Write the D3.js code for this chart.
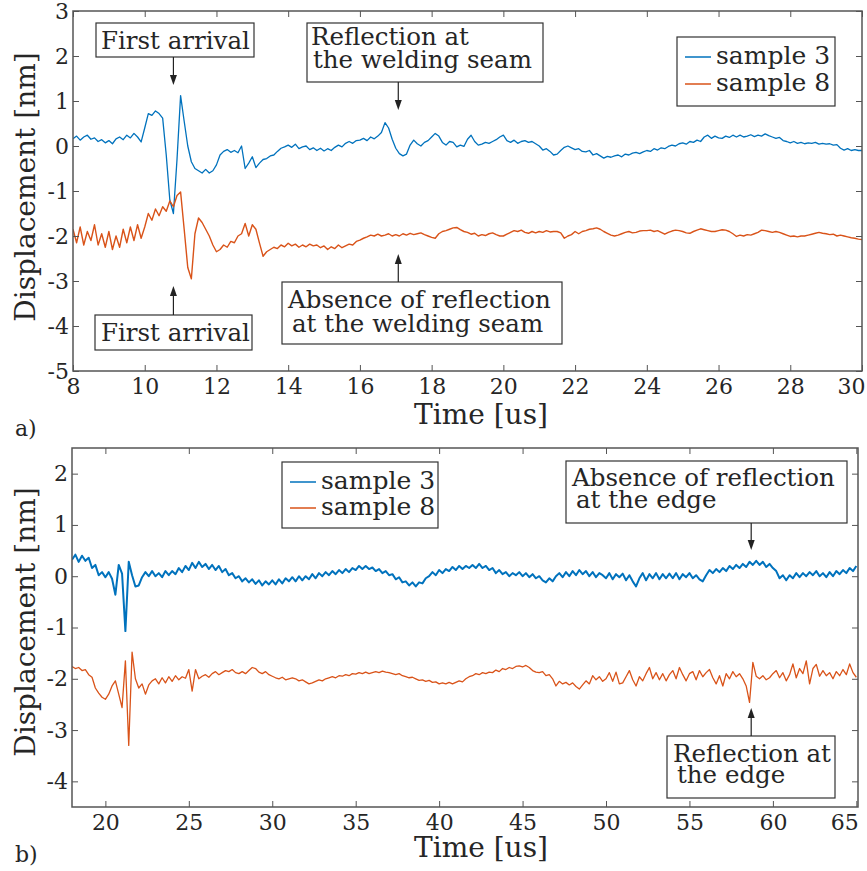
<!DOCTYPE html>
<html>
<head>
<meta charset="utf-8">
<script src="https://cdn.jsdelivr.net/npm/d3@7"></script>
<style>
  body { margin: 0; background: #fff; }
  svg { display: block; }
  text { font-family: "DejaVu Serif", serif; fill: #262626; }
</style>
</head>
<body>
<div id="chart"></div>
<script>
// ---- panel a) data: time grid 8..30 us, step 0.1 ----
const timeStartA = 8, timeStepA = 0.1;
const sample3A = [
  0.16, 0.22, 0.13, 0.2, 0.24, 0.15, 0.18, 0.1, 0.14, 0.07,
  0.12, 0.05, 0.16, 0.2, 0.14, 0.24, 0.18, 0.28, 0.2, 0.09,
  0.4, 0.72, 0.68, 0.78, 0.72, 0.62, -0.2, -1.2, -1.5, -0.3,
  1.12, 0.55, 0.0, -0.35, -0.5, -0.55, -0.6, -0.52, -0.6, -0.55,
  -0.42, -0.2, -0.12, -0.08, -0.14, -0.1, -0.15, 0.0, -0.5, -0.38,
  -0.24, -0.48, -0.38, -0.3, -0.28, -0.22, -0.2, -0.12, -0.05, -0.02,
  0.02, -0.03, 0.04, -0.06, -0.02, 0.0, -0.08, -0.04, -0.1, -0.05,
  -0.11, -0.06, -0.1, -0.03, 0.02, -0.02, 0.06, 0.1, 0.06, 0.12,
  0.13, 0.17, 0.12, 0.2, 0.16, 0.22, 0.3, 0.52, 0.4, 0.15,
  -0.05, -0.17, -0.22, -0.18, 0.02, 0.13, 0.05, 0.0, 0.08, 0.12,
  0.2, 0.28, 0.22, 0.08, 0.02, 0.1, 0.08, -0.02, 0.02, -0.01,
  0.15, 0.24, 0.1, 0.02, 0.04, 0.08, 0.06, 0.1, 0.14, 0.2,
  0.24, 0.12, 0.08, 0.13, 0.06, 0.1, 0.12, 0.08, 0.1, 0.05,
  0.0, -0.09, -0.06, -0.12, -0.2, -0.18, -0.1, -0.03, 0.0, -0.04,
  -0.08, -0.06, -0.12, -0.13, -0.1, -0.2, -0.17, -0.22, -0.27, -0.23,
  -0.25, -0.22, -0.2, -0.24, -0.18, -0.2, -0.16, -0.14, -0.17, -0.13,
  -0.1, -0.12, -0.06, -0.09, -0.04, -0.06, -0.01, 0.02, 0.0, 0.05,
  0.07, 0.04, 0.1, 0.08, 0.13, 0.1, 0.2, 0.24, 0.17, 0.22,
  0.18, 0.17, 0.22, 0.19, 0.24, 0.2, 0.24, 0.2, 0.22, 0.25,
  0.21, 0.24, 0.22, 0.27, 0.23, 0.2, 0.17, 0.19, 0.12, 0.1,
  0.07, 0.1, 0.06, 0.08, 0.05, 0.07, 0.06, 0.08, 0.04, 0.06,
  0.04, 0.05, 0.02, 0.03, -0.05, -0.09, -0.06, -0.1, -0.08, -0.1,
  -0.1
];
const sample8A = [
  -1.85, -2.15, -1.8, -2.2, -1.9, -2.1, -1.75, -2.2, -1.95, -2.25,
  -1.9, -2.3, -2.0, -2.25, -1.85, -2.15, -1.8, -2.1, -1.75, -2.05,
  -1.8, -1.5, -1.65, -1.4, -1.55, -1.35, -1.45, -1.22, -1.35, -1.1,
  -1.02, -1.85, -2.7, -2.95, -1.95, -1.6, -1.7, -1.85, -2.0, -2.2,
  -2.35, -2.3, -2.2, -2.25, -2.12, -2.15, -2.0, -1.95, -1.72, -2.0,
  -1.75, -1.85, -2.16, -2.45, -2.35, -2.3, -2.25, -2.28, -2.2, -2.24,
  -2.16, -2.22, -2.18, -2.25, -2.2, -2.24, -2.18, -2.22, -2.2, -2.26,
  -2.22, -2.3, -2.24, -2.28, -2.2, -2.26, -2.22, -2.18, -2.2, -2.12,
  -2.09, -2.05, -2.02, -1.98, -2.0, -1.96, -2.0, -1.98, -1.95, -2.0,
  -1.97, -2.0, -1.95, -1.98, -1.94, -1.97, -1.95, -1.93, -1.97, -2.0,
  -2.03, -2.05, -1.95, -1.9, -1.88, -1.85, -1.82, -1.81, -1.86, -1.9,
  -1.92, -1.96, -1.94, -2.0, -1.97, -1.99, -1.95, -1.93, -1.97, -2.0,
  -2.0, -1.96, -1.92, -1.88, -1.9, -1.87, -1.92, -1.94, -1.9, -1.93,
  -1.9, -1.92, -1.88, -1.91, -1.9, -1.9, -1.93, -2.05, -2.0, -1.97,
  -1.9, -1.95, -1.9, -1.88, -1.85, -1.84, -1.82, -1.85, -1.9, -1.94,
  -1.98, -2.0, -1.98, -1.95, -1.92, -1.9, -1.93, -1.92, -1.89, -1.88,
  -1.88, -1.87, -1.9, -1.88, -1.92, -1.96, -1.92, -1.89, -1.87, -1.88,
  -1.9, -1.93, -1.94, -1.9, -1.87, -1.84, -1.86, -1.88, -1.9, -1.9,
  -1.88, -1.86, -1.87, -1.9, -1.95, -2.01, -1.98, -2.0, -1.97, -1.98,
  -1.95, -1.92, -1.87, -1.88, -1.9, -1.92, -1.9, -1.92, -1.95, -1.98,
  -2.01, -2.0, -2.02, -2.0, -2.0, -1.98, -1.96, -1.94, -1.92, -1.94,
  -1.95, -1.97, -1.96, -2.0, -1.98, -2.0, -2.02, -2.04, -2.05, -2.07,
  -2.08
];

// ---- panel b) data: time grid 18..65 us, step 0.2 ----
const timeStartB = 18, timeStepB = 0.2;
const sample3B = [
  0.32, 0.42, 0.28, 0.4, 0.3,
  0.36, 0.16, 0.22, 0.02, 0.08,
  -0.02, 0.08, -0.05, -0.36, 0.22,
  0.05, -1.07, 0.28, 0.02, -0.2,
  -0.18, -0.02, 0.08, 0.0, 0.1,
  0.0, 0.06, -0.02, 0.1, 0.02,
  0.1, 0.04, 0.16, 0.08, 0.2,
  0.12, 0.26, 0.16, 0.28, 0.18,
  0.24, 0.14, 0.22, 0.12, 0.2,
  0.08, 0.14, 0.02, 0.06, -0.04,
  0.0, -0.1, -0.04, -0.12, -0.06,
  -0.15, -0.08, -0.18, -0.1, -0.16,
  -0.08, -0.16, -0.06, -0.14, -0.04,
  -0.1, -0.02, -0.1, 0.0, -0.08,
  0.0, -0.06, 0.04, -0.04, 0.06,
  0.0, 0.08, 0.02, 0.1, 0.04,
  0.12, 0.06, 0.14, 0.08, 0.16,
  0.12, 0.2, 0.14, 0.2, 0.14,
  0.17, 0.1, 0.14, 0.06, 0.1,
  0.02, 0.04, -0.06, -0.02, -0.12,
  -0.1, -0.18, -0.12, -0.2, -0.12,
  -0.14, -0.04, 0.0, 0.08, 0.02,
  0.12, 0.06, 0.14, 0.1, 0.18,
  0.12, 0.2, 0.14, 0.2, 0.16,
  0.22, 0.16, 0.24, 0.16, 0.2,
  0.12, 0.16, 0.06, 0.12, 0.04,
  0.08, 0.0, 0.06, 0.02, 0.08,
  0.0, 0.06, -0.02, 0.04, -0.04,
  0.0, -0.08, -0.12, -0.04, -0.1,
  0.0, 0.06, -0.02, 0.08, 0.0,
  0.1, 0.02, 0.12, 0.04, 0.1,
  0.0, 0.08, -0.02, 0.06, 0.02,
  -0.04, 0.06, -0.06, 0.04, -0.02,
  0.05, -0.08, 0.02, -0.1, -0.2,
  -0.04, 0.06, -0.08, 0.04, -0.04,
  0.06, -0.06, 0.04, -0.04, 0.05,
  -0.04, 0.06, -0.06, 0.04, -0.02,
  0.06, -0.04, 0.02, -0.06, -0.1,
  0.02, 0.12, 0.06, 0.14, 0.08,
  0.16, 0.1, 0.2, 0.14, 0.22,
  0.16, 0.24, 0.18, 0.28, 0.22,
  0.3, 0.22, 0.28, 0.18, 0.24,
  0.16, 0.1, -0.04, 0.02, -0.08,
  0.02, -0.04, 0.06, -0.02, 0.06,
  0.0, 0.08, 0.02, 0.1, 0.0,
  0.06, -0.02, 0.08, 0.0, 0.1,
  0.04, 0.12, 0.06, 0.16, 0.1,
  0.2
];
const sample8B = [
  -1.76, -1.8, -1.78, -1.84, -1.82,
  -1.92, -1.97, -2.18, -2.28, -2.36,
  -2.4, -2.3, -2.14, -2.04, -2.3,
  -2.56, -1.65, -3.3, -1.48, -2.0,
  -2.18, -2.1, -2.3, -2.12, -2.04,
  -2.0, -2.1, -1.98, -2.08, -1.96,
  -2.05, -1.94, -2.02, -1.96, -1.99,
  -1.82, -2.24, -1.82, -2.0, -1.95,
  -1.92, -1.97, -1.9, -1.86, -1.92,
  -1.88, -1.84, -1.86, -1.82, -1.88,
  -1.9, -1.86, -1.9, -1.84, -1.78,
  -1.8, -1.87, -1.9, -1.86, -1.92,
  -1.95, -1.98, -2.0, -1.97, -2.02,
  -2.0, -1.98, -2.0, -2.04, -2.02,
  -2.06, -2.1, -2.08, -2.05, -2.02,
  -2.04, -2.0, -1.98, -1.96, -1.98,
  -1.94, -1.95, -1.92, -1.94, -1.9,
  -1.91, -1.88, -1.9, -1.87, -1.9,
  -1.88, -1.86, -1.88, -1.85, -1.87,
  -1.88, -1.9, -1.92, -1.9, -1.94,
  -1.96, -1.98, -1.97, -2.0, -2.03,
  -2.02, -2.05, -2.03, -2.07, -2.06,
  -2.1, -2.08, -2.1, -2.07, -2.1,
  -2.07, -2.04, -2.06, -2.0, -1.96,
  -1.94, -1.9, -1.92, -1.88, -1.9,
  -1.87, -1.88, -1.83, -1.86, -1.8,
  -1.82, -1.78, -1.8, -1.76, -1.75,
  -1.77, -1.74, -1.78, -1.84, -1.87,
  -1.88, -1.86, -1.94, -1.92, -2.0,
  -2.14, -2.05, -2.1, -2.07, -2.12,
  -2.08, -2.15, -2.2, -2.12, -2.04,
  -2.1, -1.94, -2.02, -1.96, -2.05,
  -2.0, -1.88, -2.05, -1.87, -2.1,
  -2.08, -1.96, -1.84, -2.02, -2.14,
  -1.96, -2.04, -1.9, -1.78, -2.0,
  -1.88, -2.02, -1.9, -2.04, -1.92,
  -1.84, -2.0, -1.78, -1.92, -2.04,
  -1.9, -1.86, -2.02, -1.84, -1.96,
  -1.88, -1.82, -1.98, -2.1, -1.94,
  -2.14, -1.9, -2.0, -1.86, -1.96,
  -1.9, -2.0, -2.14, -2.46, -1.68,
  -1.95, -2.0, -1.94, -2.02, -1.98,
  -1.9, -1.84, -1.98, -1.88, -2.04,
  -1.92, -1.71, -1.98, -1.8, -1.9,
  -1.65, -2.1, -1.8, -1.72, -1.95,
  -1.84, -1.94, -1.88, -2.0, -1.86,
  -1.94, -1.82, -1.92, -1.71, -1.88,
  -1.97
];

// tick labels
const xTicksA = [8, 10, 12, 14, 16, 18, 20, 22, 24, 26, 28, 30];
const yTicksA = [-5, -4, -3, -2, -1, 0, 1, 2, 3];
const xTicksB = [20, 25, 30, 35, 40, 45, 50, 55, 60, 65];
const yTicksB = [-4, -3, -2, -1, 0, 1, 2];

const seriesNames = ['sample 3', 'sample 8'];
const colors = ['#0072BD', '#D95319'];

const W = 867, H = 871;
const svg = d3.select('#chart').append('svg')
  .attr('width', W)
  .attr('height', H);

function toPoints(values, start, step) {
  return values.map((v, i) => [start + i * step, v]);
}

function drawPanel(cfg) {
  const x = d3.scaleLinear().domain(cfg.xDomain).range([cfg.left, cfg.right]);
  const y = d3.scaleLinear().domain(cfg.yDomain).range([cfg.bottom, cfg.top]);

  const clipId = 'clip-' + cfg.id;
  svg.append('clipPath').attr('id', clipId)
    .append('rect')
    .attr('x', cfg.left).attr('y', cfg.top)
    .attr('width', cfg.right - cfg.left).attr('height', cfg.bottom - cfg.top);

  // data lines
  const line = d3.line().x(d => x(d[0])).y(d => y(d[1]));
  const g = svg.append('g').attr('clip-path', `url(#${clipId})`);
  cfg.series.forEach((s, i) => {
    g.append('path')
      .datum(s)
      .attr('fill', 'none')
      .attr('stroke', colors[i])
      .attr('stroke-width', cfg.lineWidths[i])
      .attr('stroke-linejoin', 'round')
      .attr('d', line);
  });

  // axes, ticks pointing inward
  const fmt = d => String(d);
  const axB = svg.append('g').attr('transform', `translate(0,${cfg.bottom})`)
    .call(d3.axisBottom(x).tickValues(cfg.xTicks).tickSize(-6).tickSizeOuter(0).tickPadding(7).tickFormat(fmt));
  const axL = svg.append('g').attr('transform', `translate(${cfg.left},0)`)
    .call(d3.axisLeft(y).tickValues(cfg.yTicks).tickSize(-6).tickSizeOuter(0).tickPadding(4).tickFormat(fmt));
  const axT = svg.append('g').attr('transform', `translate(0,${cfg.top})`)
    .call(d3.axisTop(x).tickValues(cfg.xTicks).tickSize(-6).tickSizeOuter(0).tickFormat(''));
  const axR = svg.append('g').attr('transform', `translate(${cfg.right},0)`)
    .call(d3.axisRight(y).tickValues(cfg.yTicks).tickSize(-6).tickSizeOuter(0).tickFormat(''));

  [axB, axL, axT, axR].forEach(a => {
    a.select('.domain').remove();
    a.selectAll('line').attr('stroke', '#555').attr('stroke-width', 1);
    a.selectAll('text').attr('font-family', '"DejaVu Serif", serif')
      .attr('font-size', 22).attr('fill', '#262626');
  });
  axB.selectAll('text').attr('dy', '0.72em');
  // last x label sits flush with the right edge, as in the figure
  const lastX = cfg.xTicks[cfg.xTicks.length - 1];
  axB.selectAll('.tick').filter(d => d === lastX)
    .select('text').attr('text-anchor', 'end').attr('x', cfg.lastLabelShift);

  // frame
  svg.append('rect')
    .attr('x', cfg.left).attr('y', cfg.top)
    .attr('width', cfg.right - cfg.left).attr('height', cfg.bottom - cfg.top)
    .attr('fill', 'none').attr('stroke', '#555').attr('stroke-width', 1.5);

  // axis titles
  svg.append('text')
    .attr('x', 481).attr('y', cfg.xTitleY)
    .attr('text-anchor', 'middle').attr('font-size', 28)
    .text('Time [us]');
  svg.append('text')
    .attr('transform', `translate(35,${cfg.yTitleY}) rotate(-90)`)
    .attr('text-anchor', 'middle').attr('font-size', 28)
    .text('Displacement [nm]');

  // panel letter
  svg.append('text')
    .attr('x', 15).attr('y', cfg.letterY)
    .attr('font-size', 22)
    .text(cfg.letter);

  // legend
  const lg = cfg.legend;
  svg.append('rect')
    .attr('x', lg.x).attr('y', lg.y).attr('width', lg.w).attr('height', lg.h)
    .attr('fill', '#fff').attr('stroke', '#333').attr('stroke-width', 1.2);
  const lt = svg.append('text').attr('font-size', 25);
  seriesNames.forEach((name, i) => {
    const ly = lg.y + lg.firstRow + i * lg.rowGap;
    svg.append('line')
      .attr('x1', lg.x + 8).attr('x2', lg.x + 34)
      .attr('y1', ly).attr('y2', ly)
      .attr('stroke', colors[i]).attr('stroke-width', 1.5);
    lt.append('tspan')
      .attr('x', lg.x + 39).attr('y', ly + 7)
      .text(name);
  });

  // annotation boxes with arrows
  cfg.notes.forEach(n => {
    svg.append('rect')
      .attr('x', n.x).attr('y', n.y).attr('width', n.w).attr('height', n.h)
      .attr('fill', '#fff').attr('stroke', '#333').attr('stroke-width', 1.2);
    const t = svg.append('text').attr('font-size', 24.5);
    n.lines.forEach((s, i) => {
      t.append('tspan')
        .attr('x', n.x + n.pad[i]).attr('y', n.y + n.base[i])
        .text(s);
    });
    const ax = x(n.at);
    const dir = Math.sign(n.tip - n.from);
    svg.append('line')
      .attr('x1', ax).attr('x2', ax)
      .attr('y1', n.from).attr('y2', n.tip - dir * 8)
      .attr('stroke', '#222').attr('stroke-width', 1.2);
    svg.append('path')
      .attr('d', `M${ax},${n.tip} L${ax - 3.5},${n.tip - dir * 10} L${ax + 3.5},${n.tip - dir * 10} Z`)
      .attr('fill', '#222');
  });
}

drawPanel({
  id: 'a', letter: 'a)', letterY: 436,
  left: 73, right: 862, top: 11, bottom: 371,
  xDomain: [8, 30], yDomain: [-5, 3],
  xTicks: xTicksA, yTicks: yTicksA, lastLabelShift: 3,
  xTitleY: 424, yTitleY: 187,
  series: [toPoints(sample3A, timeStartA, timeStepA), toPoints(sample8A, timeStartA, timeStepA)],
  lineWidths: [1.3, 1.4],
  legend: { x: 677, y: 37, w: 158, h: 69, firstRow: 20, rowGap: 27 },
  notes: [
    { x: 96, y: 23, w: 158, h: 34, lines: ['First arrival'], pad: [5], base: [26], at: 10.8, from: 57, tip: 85 },
    { x: 307, y: 23, w: 236, h: 59, lines: ['Reflection at', 'the welding seam'], pad: [4, 6], base: [22, 45], at: 17.07, from: 82, tip: 110 },
    { x: 95, y: 315, w: 157, h: 35, lines: ['First arrival'], pad: [6], base: [26], at: 10.8, from: 315, tip: 286 },
    { x: 282, y: 282, w: 280, h: 62, lines: ['Absence of reflection', 'at the welding seam'], pad: [6, 10], base: [26, 50], at: 17.07, from: 282, tip: 254 }
  ]
});

drawPanel({
  id: 'b', letter: 'b)', letterY: 862,
  left: 72, right: 858, top: 448, bottom: 807,
  xDomain: [18, 65.1], yDomain: [-4.5, 2.5],
  xTicks: xTicksB, yTicks: yTicksB, lastLabelShift: 2,
  xTitleY: 857, yTitleY: 622,
  series: [toPoints(sample3B, timeStartB, timeStepB), toPoints(sample8B, timeStartB, timeStepB)],
  lineWidths: [2, 1.3],
  legend: { x: 282, y: 462, w: 156, h: 66, firstRow: 20, rowGap: 26 },
  notes: [
    { x: 566, y: 461, w: 281, h: 62, lines: ['Absence of reflection', 'at the edge'], pad: [6, 10], base: [25, 47], at: 58.7, from: 523, tip: 550 },
    { x: 667, y: 736, w: 168, h: 62, lines: ['Reflection at', 'the edge'], pad: [6, 10], base: [26, 47], at: 58.7, from: 736, tip: 708 }
  ]
});
</script>
</body>
</html>
